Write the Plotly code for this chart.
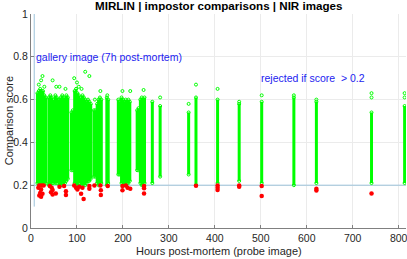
import plotly.graph_objects as go

# dense columns of impostor scores: hours, low score, high score
col_hours = [14, 17, 20, 23, 26, 29, 32,
             39, 42, 45, 48,
             53, 56, 59,
             62, 65, 68, 71, 74, 77, 80,
             88, 91,
             95, 98, 101, 104,
             109, 112, 115, 118, 121, 124,
             127, 130,
             137, 140,
             144, 147, 150, 153,
             165, 168,
             190, 193,
             197, 200, 203, 206, 209, 212, 215,
             231, 234,
             238, 241, 244, 247,
             264, 281, 343, 359, 406, 453, 502, 572, 621, 741, 813]
col_low = [0.21, 0.20, 0.20, 0.20, 0.20, 0.21, 0.21,
           0.20, 0.20, 0.21, 0.21,
           0.21, 0.21, 0.22,
           0.20, 0.20, 0.21, 0.20, 0.21, 0.22, 0.23,
           0.27, 0.27,
           0.21, 0.20, 0.20, 0.21,
           0.20, 0.20, 0.21, 0.20, 0.21, 0.22,
           0.22, 0.23,
           0.24, 0.24,
           0.21, 0.20, 0.20, 0.21,
           0.20, 0.21,
           0.25, 0.25,
           0.21, 0.20, 0.20, 0.20, 0.21, 0.21, 0.22,
           0.27, 0.27,
           0.21, 0.20, 0.20, 0.21,
           0.21, 0.24, 0.25, 0.20, 0.21, 0.22, 0.21, 0.20, 0.21, 0.21, 0.21]
col_high = [0.63, 0.64, 0.65, 0.64, 0.64, 0.62, 0.61,
            0.61, 0.62, 0.61, 0.60,
            0.62, 0.61, 0.60,
            0.60, 0.61, 0.62, 0.61, 0.60, 0.62, 0.61,
            0.54, 0.55,
            0.64, 0.65, 0.63, 0.62,
            0.61, 0.62, 0.61, 0.60, 0.59, 0.60,
            0.59, 0.58,
            0.55, 0.55,
            0.58, 0.60, 0.61, 0.60,
            0.61, 0.60,
            0.60, 0.59,
            0.61, 0.60, 0.59, 0.60, 0.59, 0.60, 0.59,
            0.55, 0.56,
            0.60, 0.61, 0.60, 0.61,
            0.59, 0.57, 0.54, 0.61, 0.60, 0.58, 0.59, 0.61, 0.59, 0.54, 0.57]

# sparse green scores above the dense part
out_hours = [17, 22, 25, 29, 47, 55, 62, 75, 94, 100, 104, 110, 118, 127, 139,
             151, 166, 199, 216, 245, 281, 343, 359, 406, 453, 502, 572, 621,
             741, 741, 813, 813]
out_score = [0.67, 0.69, 0.71, 0.66, 0.69, 0.66, 0.66, 0.65, 0.70, 0.68, 0.66,
             0.65, 0.73, 0.71, 0.60, 0.64, 0.62, 0.64, 0.64, 0.645, 0.61, 0.58,
             0.67, 0.65, 0.59, 0.62, 0.62, 0.60, 0.63, 0.61, 0.63, 0.61]

# rejected (score below threshold) comparisons
red_hours = [18, 23, 27.5, 16, 22, 20, 25, 18, 22,
             41, 45, 47, 43.5, 47, 54,
             62, 72, 76, 76,
             94, 98, 101, 105, 109, 114.5, 112,
             127, 127, 138, 151, 152, 152, 167,
             199, 199, 206.5, 210, 216,
             246, 246, 246,
             359, 406, 406, 406, 453, 453, 502, 502, 621, 621, 741]
red_score = [0.199, 0.199, 0.199, 0.188, 0.180, 0.164, 0.160, 0.152, 0.146,
             0.196, 0.188, 0.177, 0.167, 0.156, 0.161,
             0.193, 0.196, 0.172, 0.154,
             0.199, 0.188, 0.180, 0.193, 0.160, 0.136, 0.188,
             0.196, 0.183, 0.199, 0.199, 0.176, 0.154, 0.196,
             0.196, 0.176, 0.199, 0.188, 0.183,
             0.196, 0.186, 0.161,
             0.198, 0.199, 0.188, 0.177, 0.199, 0.193, 0.196, 0.149, 0.183, 0.175, 0.161]

threshold = 0.2
gallery_hours = 7
gallery_line = [0.1, 1.0]

x_ticks = [0, 100, 200, 300, 400, 500, 600, 700, 800]
y_ticks = [0, 0.2, 0.4, 0.6, 0.8, 1]

GREEN = "#00ff00"
RED = "#ff0000"
LINEBLUE = "#9cc3da"
TEXTBLUE = "#1c1cf0"
FONT = "Liberation Sans"

seg_x, seg_y = [], []
for h, lo, hi in zip(col_hours, col_low, col_high):
    seg_x += [h, h, None]
    seg_y += [lo, hi, None]

fig = go.Figure()
fig.add_trace(go.Scatter(x=[0, 816], y=[threshold, threshold], mode="lines",
                         line=dict(color=LINEBLUE, width=1), hoverinfo="skip"))
fig.add_trace(go.Scatter(x=[gallery_hours, gallery_hours], y=gallery_line, mode="lines",
                         line=dict(color=LINEBLUE, width=1), hoverinfo="skip"))
fig.add_trace(go.Scatter(x=seg_x, y=seg_y, mode="lines",
                         line=dict(color=GREEN, width=3)))
fig.add_trace(go.Scatter(x=col_hours + col_hours, y=col_low + col_high, mode="markers",
                         marker=dict(symbol="circle-open", color=GREEN, size=3,
                                     line=dict(width=1))))
fig.add_trace(go.Scatter(x=out_hours, y=out_score, mode="markers",
                         marker=dict(symbol="circle-open", color=GREEN, size=3,
                                     line=dict(width=1))))
fig.add_trace(go.Scatter(x=red_hours, y=red_score, mode="markers",
                         marker=dict(symbol="circle", color=RED, size=4.5)))

fig.add_annotation(x=6, y=0.8, xref="x", yref="y", text="gallery image (7h post-mortem)",
                   showarrow=False, xanchor="left", yanchor="middle",
                   font=dict(family=FONT, size=10.5, color=TEXTBLUE))
fig.add_annotation(x=613, y=0.70, xref="x", yref="y", text="rejected if score&nbsp;&nbsp;> 0.2",
                   showarrow=False, xanchor="center", yanchor="middle",
                   font=dict(family=FONT, size=10.5, color=TEXTBLUE))
# title and axis titles
fig.add_annotation(x=0.5, y=1.038, xref="paper", yref="paper",
                   text="<b>MIRLIN | impostor comparisons | NIR images</b>",
                   showarrow=False, xanchor="center", yanchor="middle",
                   font=dict(family=FONT, size=11.6, color="#000000"))
fig.add_annotation(x=0.5, y=-0.108, xref="paper", yref="paper",
                   text="Hours post-mortem (probe image)",
                   showarrow=False, xanchor="center", yanchor="middle",
                   font=dict(family=FONT, size=11, color="#262626"))
fig.add_annotation(x=-0.058, y=0.5, xref="paper", yref="paper",
                   text="Comparison score", textangle=-90,
                   showarrow=False, xanchor="center", yanchor="middle",
                   font=dict(family=FONT, size=11, color="#262626"))

fig.update_layout(
    width=407, height=259,
    margin=dict(l=31, r=1, t=14, b=31, autoexpand=False),
    paper_bgcolor="white", plot_bgcolor="white",
    showlegend=False,
    font=dict(family=FONT, size=10.5, color="#262626"),
)
fig.update_xaxes(range=[0, 816], tickvals=x_ticks, showgrid=True, gridcolor="#ebebeb",
                 showline=True, linecolor="#808080", ticks="inside", ticklen=3,
                 tickcolor="#808080", zeroline=False, automargin=False,
                 ticklabeloverflow="allow")
fig.update_yaxes(range=[0, 1], tickvals=y_ticks, ticktext=["0", "0.2", "0.4", "0.6", "0.8", "1"],
                 showgrid=True, gridcolor="#ebebeb",
                 showline=True, linecolor="#808080", ticks="inside", ticklen=3,
                 tickcolor="#808080", zeroline=False, automargin=False,
                 ticklabeloverflow="allow")

fig.write_html("out.html", config={"displayModeBar": False},
               post_script="document.body.style.margin='0';document.body.style.overflow='hidden';")
